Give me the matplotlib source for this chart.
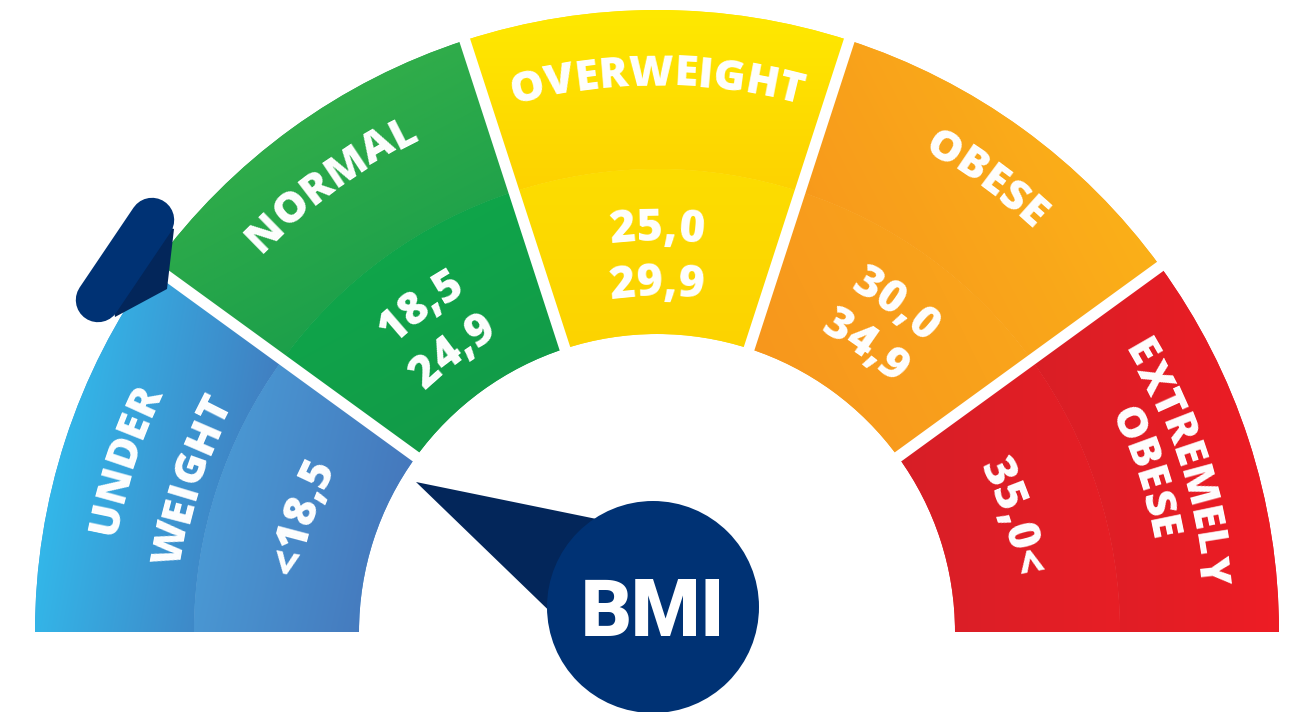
import numpy as np
import matplotlib
matplotlib.use("Agg")
import matplotlib.pyplot as plt
from matplotlib.patches import Wedge, Circle, Polygon
from matplotlib.colors import to_rgb
from matplotlib.font_manager import FontProperties, findfont, get_font

# chart content
categories = [["UNDER", "WEIGHT"], ["NORMAL"], ["OVERWEIGHT"], ["OBESE"], ["EXTREMELY", "OBESE"]]
ranges = [["<18,5"], ["18,5", "24,9"], ["25,0", "29,9"], ["30,0", "34,9"], ["35,0<"]]
outer_colors = [("#2FC6F4", "#4571B7"), ("#3DB54A", "#12994A"), ("#FFE900", "#FDD200"),
                ("#F7941D", "#FCB817"), ("#D91F26", "#EE1C24")]
inner_colors = [("#4BA0D9", "#4472B8"), ("#0DAA4B", "#149747"), ("#FDDD00", "#FCD300"),
                ("#F7941D", "#FAA91B"), ("#D71F27", "#E71E25")]
center_label = "BMI"

# layout (pixel units, y up)
W, H = 1295, 712
CX, CY = 657, 80
R_OUT, R_MID, R_IN = 622, 463, 298
grad_dirs = [-15, -60, -90, 25, 0]
label_radii = [[566, 497], [563], [562], [565], [561, 518]]
range_radii = [[378], [406, 351], [407, 352], [409, 358], [378]]
NAVY, NAVY_DARK = "#003274", "#03265A"

LABEL_FP = FontProperties(family="Open Sans", weight="heavy", size=31)
NUM_FP = FontProperties(family="Open Sans", weight="heavy", size=32)


def grad_img(c1, c2, ang, n=200):
    a = np.radians(ang)
    xs, ys = np.meshgrid(np.linspace(-1, 1, n), np.linspace(-1, 1, n))
    t = xs * np.cos(a) + ys * np.sin(a)
    t = (t - t.min()) / (t.max() - t.min())
    c1, c2 = np.array(to_rgb(c1)), np.array(to_rgb(c2))
    return c1 * (1 - t[..., None]) + c2 * t[..., None]


def grad_wedge(ax, r, t1, t2, width, c1, c2, ang):
    base = np.mean([to_rgb(c1), to_rgb(c2)], axis=0)
    w = Wedge((CX, CY), r, t1, t2, width=width, facecolor=base, lw=0, zorder=1)
    ax.add_patch(w)
    x0, y0, x1, y1 = w.get_path().get_extents().extents
    im = ax.imshow(grad_img(c1, c2, ang), extent=(x0, x1, y0, y1), origin="lower",
                   aspect="auto", interpolation="bilinear", zorder=2)
    im.set_clip_path(w)


def arc_text(ax, s, r_mid, ang_mid, fp):
    font = get_font(findfont(fp))
    font.set_size(fp.get_size_in_points(), 100)
    adv = [font.load_char(ord(ch)).linearHoriAdvance / 65536 for ch in s]
    cap = fp.get_size_in_points() * 100 / 72 * 0.714
    r_base = r_mid - cap / 2
    pos = -sum(adv) / 2
    for ch, a in zip(s, adv):
        th = np.radians(ang_mid) - (pos + a / 2) / r_base
        ax.text(CX + r_base * np.cos(th), CY + r_base * np.sin(th), ch,
                rotation=np.degrees(th) - 90, rotation_mode="anchor",
                ha="center", va="baseline", color="white", fontproperties=fp, zorder=5)
        pos += a


fig = plt.figure(figsize=(W / 100, H / 100), dpi=100)
ax = fig.add_axes([0, 0, 1, 1])
ax.set_xlim(0, W)
ax.set_ylim(0, H)
ax.axis("off")

n = len(categories)
step = 180 / n
for i in range(n):
    t2 = 180 - step * i
    t1 = t2 - step
    grad_wedge(ax, R_OUT, t1, t2, R_OUT - R_MID, *outer_colors[i], grad_dirs[i])
    grad_wedge(ax, R_MID, t1, t2, R_MID - R_IN, *inner_colors[i], grad_dirs[i])
    mid = (t1 + t2) / 2
    for line, r in zip(categories[i], label_radii[i]):
        arc_text(ax, line, r, mid, LABEL_FP)
    for line, r in zip(ranges[i], range_radii[i]):
        arc_text(ax, line, r, mid, NUM_FP)

# white gaps between segments
for i in range(1, n):
    th = np.radians(180 - step * i)
    ax.plot([CX + (R_IN - 20) * np.cos(th), CX + (R_OUT + 20) * np.cos(th)],
            [CY + (R_IN - 20) * np.sin(th), CY + (R_OUT + 20) * np.sin(th)],
            color="white", lw=8, solid_capstyle="butt", zorder=3)

# pointer tab on the outer rim (dark side sits under the rounded body)
ax.add_patch(Polygon([(174, H - 229), (167, H - 289), (115, H - 317), (112, H - 300), (160, H - 225)],
                     closed=True, facecolor=NAVY_DARK, lw=0, zorder=6))
ax.plot([98, 152], [H - 300, H - 220], color=NAVY, lw=32, solid_capstyle="round", zorder=6.5)

# needle + hub
hub = np.array([653, H - 607])
tip = np.array([416, H - 482])
d = (tip - hub) / np.linalg.norm(tip - hub)
perp = np.array([-d[1], d[0]])
ax.add_patch(Polygon([tip, hub + perp * 78, hub - perp * 78], closed=True,
                     facecolor=NAVY_DARK, lw=0, zorder=7))
ax.add_patch(Circle(hub, 106, facecolor=NAVY, lw=0, zorder=8))
ax.text(hub[0], hub[1] - 29, center_label, ha="center", va="baseline", color="white",
        family="Roboto", weight="heavy", size=57, zorder=9)

ax.set_xlim(0, W)
ax.set_ylim(0, H)
fig.savefig("out.png", dpi=100)
